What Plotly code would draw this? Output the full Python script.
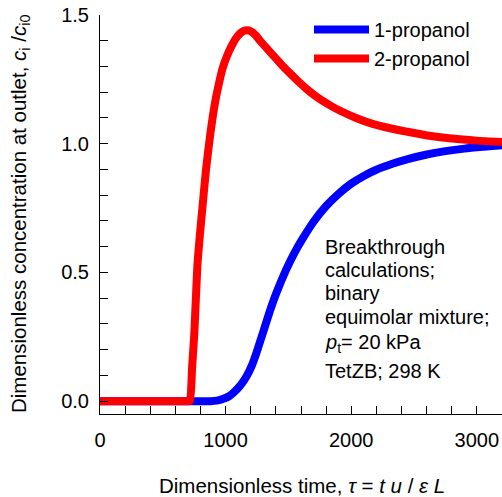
import plotly.graph_objects as go

# ---- data ----
t_1prop = [0, 400, 800, 880, 930, 982, 1030, 1061, 1120, 1167, 1210, 1247, 1300, 1349,
           1400, 1481, 1550, 1614, 1700, 1800, 1900, 2000, 2100, 2200, 2328, 2450,
           2593, 2750, 2900, 3050, 3200]
c_1prop = [0.0, 0.0, 0.0, 0.0, 0.002, 0.009, 0.02, 0.032, 0.063, 0.097, 0.14, 0.19,
           0.27, 0.345, 0.415, 0.51, 0.578, 0.632, 0.697, 0.758, 0.806, 0.845, 0.875,
           0.899, 0.922, 0.94, 0.957, 0.971, 0.981, 0.988, 0.994]

t_2prop = [0, 300, 600, 700, 716, 733, 751, 775, 795, 815, 844, 876, 916, 945, 974,
           1010, 1048, 1080, 1115, 1140, 1170, 1200, 1240, 1274, 1325, 1380, 1445,
           1513, 1580, 1646, 1710, 1779, 1845, 1911, 2044, 2176, 2309, 2442, 2593,
           2800, 3000, 3200]
c_2prop = [0.0, 0.0, 0.0, 0.0, 0.0, 0.13, 0.265, 0.525, 0.645, 0.75, 0.90, 1.03, 1.16,
           1.23, 1.29, 1.34, 1.38, 1.408, 1.428, 1.437, 1.441, 1.437, 1.421, 1.40,
           1.372, 1.342, 1.307, 1.273, 1.241, 1.212, 1.187, 1.164, 1.145, 1.128, 1.099,
           1.076, 1.060, 1.047, 1.033, 1.02, 1.012, 1.007]

series_names = ["1-propanol", "2-propanol"]
series_colors = ["#0000FF", "#FF0000"]

note_lines = ["Breakthrough", "calculations;", "binary", "equimolar mixture;",
              "<i>p</i><sub>t</sub>= 20 kPa", "TetZB; 298 K"]

x_title = "Dimensionless time, <i>τ</i> = <i>t u</i> / <i>ε L</i>"
y_title = ("Dimensionless concentration at outlet, <i>c</i><sub>i</sub> /"
           "<i>c</i><sub>i0</sub>")

FONT = "Liberation Sans, Arial, sans-serif"

# plot-area geometry in pixels
W, H = 502, 497
ML, MR, MT, MB = 100, 0, 15, 83
PW, PH = W - ML - MR, H - MT - MB


def px(x):
    return (x - ML) / PW


def py(y):
    return (H - MB - y) / PH


fig = go.Figure()
for t, c, name, col in [(t_1prop, c_1prop, series_names[0], series_colors[0]),
                        (t_2prop, c_2prop, series_names[1], series_colors[1])]:
    fig.add_trace(go.Scatter(x=t, y=c, mode="lines", name=name,
                             line=dict(color=col, width=8, shape="spline",
                                       smoothing=0.5)))

axis_common = dict(showline=True, linecolor="black", linewidth=1,
                   ticks="inside", ticklen=8, tickwidth=1, tickcolor="black",
                   showgrid=False, zeroline=False, mirror=False,
                   tickfont=dict(family=FONT, size=20, color="black"))

fig.update_xaxes(range=[0, 3200], tick0=0, dtick=1000,
                 minor=dict(dtick=200, ticks="inside", ticklen=8, tickcolor="black",
                            showgrid=False),
                 ticklabelstandoff=8, **axis_common)
fig.update_yaxes(range=[-0.05, 1.5], tick0=0, dtick=0.5, tickformat=".1f",
                 minor=dict(dtick=0.1, ticks="inside", ticklen=8, tickcolor="black",
                            showgrid=False),
                 ticklabelstandoff=6, **axis_common)

annotations = []
# note text, one line each
line_centers = [247, 270, 293, 316.7, 343, 370.7]
for txt, yc in zip(note_lines, line_centers):
    annotations.append(dict(text=txt, xref="paper", yref="paper", x=px(323), y=py(yc),
                            xanchor="left", yanchor="middle", showarrow=False,
                            font=dict(family=FONT, size=20, color="black")))
# axis titles
annotations.append(dict(text=x_title, xref="paper", yref="paper", x=px(302), y=py(485),
                        xanchor="center", yanchor="middle", showarrow=False,
                        font=dict(family=FONT, size=20.5, color="black")))
annotations.append(dict(text=y_title, xref="paper", yref="paper", x=px(20), y=py(214),
                        xanchor="center", yanchor="middle", textangle=-90,
                        showarrow=False,
                        font=dict(family=FONT, size=20.5, color="black")))

fig.update_layout(
    width=W, height=H,
    margin=dict(l=ML, r=MR, t=MT, b=MB, pad=0),
    paper_bgcolor="white", plot_bgcolor="white",
    showlegend=True,
    legend=dict(x=px(309), y=py(10), xanchor="left", yanchor="top",
                bgcolor="rgba(0,0,0,0)", itemwidth=55, tracegroupgap=0,
                font=dict(family=FONT, size=20, color="black")),
    annotations=annotations,
)

fig.write_html("out.html")
